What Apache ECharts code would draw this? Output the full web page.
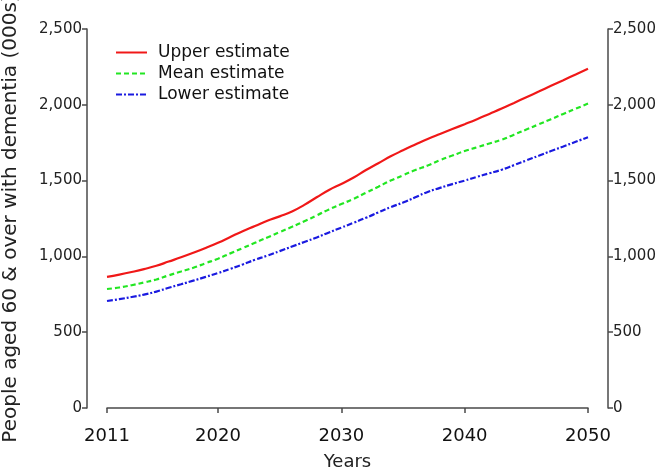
<!DOCTYPE html>
<html>
<head>
<meta charset="utf-8">
<script src="https://cdn.jsdelivr.net/npm/echarts@6/dist/echarts.min.js"></script>
<style>
  html, body { margin: 0; padding: 0; background: #fff; }
  #chart { width: 668px; height: 474px; }
</style>
</head>
<body>
<div id="chart"></div>
<script>
// years on the x axis, one point per year
const years = [];
for (let y = 2011; y <= 2050; y++) years.push(y);

// values (thousands of people)
const upperEstimate = [865, 880, 897, 916, 938, 966, 994, 1024, 1056, 1090,
	1128, 1166, 1200, 1235, 1264, 1296, 1340, 1390, 1438, 1478,
	1520, 1570, 1615, 1660, 1700, 1738, 1775, 1808, 1840, 1872,
	1905, 1940, 1975, 2012, 2050, 2087, 2125, 2162, 2200, 2237];
const meanEstimate = [785, 795, 810, 828, 848, 875, 900, 925, 955, 985,
	1020, 1055, 1090, 1125, 1160, 1195, 1232, 1270, 1310, 1345,
	1380, 1420, 1460, 1500, 1535, 1570, 1600, 1635, 1665, 1695,
	1720, 1745, 1770, 1803, 1837, 1871, 1905, 1940, 1974, 2008];
const lowerEstimate = [706, 718, 732, 748, 768, 793, 816, 840, 865, 890,
	918, 947, 978, 1005, 1035, 1065, 1095, 1125, 1158, 1190,
	1222, 1255, 1290, 1325, 1355, 1390, 1425, 1452, 1477, 1500,
	1525, 1548, 1572, 1602, 1633, 1664, 1695, 1725, 1756, 1786];

const xTicks = [2011, 2020, 2030, 2040, 2050];

const FONT = "DejaVu Sans";
const AXIS_COLOR = "#4a4a4a";

const chart = echarts.init(document.getElementById("chart"), null, { renderer: "canvas" });

// both y axes share the same scale, pushed out from the grid with offset
const yAxisBase = {
	type: "value",
	min: 0,
	max: 2500,
	interval: 500,
	offset: 20,
	axisLine: { show: true, lineStyle: { color: AXIS_COLOR, width: 1.5 } },
	axisTick: { show: true, length: 5, lineStyle: { color: AXIS_COLOR, width: 1.5 } },
	axisLabel: {
		fontFamily: FONT,
		fontSize: 15,
		color: "#222",
		margin: 5,
		formatter: (v) => v.toLocaleString("en-US"),
	},
	splitLine: { show: false },
};

const mkLine = (name, data, color, type) => ({
	name,
	type: "line",
	data: years.map((y, i) => [y, data[i]]),
	showSymbol: false,
	symbol: "none",
	smooth: true,
	lineStyle: { color, width: 2.2, type },
	itemStyle: { color },
});

chart.setOption({
	animation: false,
	textStyle: { fontFamily: FONT },
	// fixed plot box; the long y-axis title is allowed to run off the top like in the original
	grid: { left: 107, right: 80, top: 29, bottom: 66, outerBoundsMode: "none" },
	legend: {
		orient: "vertical",
		left: 110,
		top: 39,
		itemWidth: 31,
		itemHeight: 14,
		itemGap: 4,
		// hide the symbol that line series put in the middle of the legend icon
		itemStyle: { opacity: 0 },
		textStyle: { fontFamily: FONT, fontSize: 17, color: "#111", padding: [0, 0, 0, 6] },
		data: ["Upper estimate", "Mean estimate", "Lower estimate"],
	},
	xAxis: {
		type: "value",
		min: 2011,
		max: 2050,
		name: "Years",
		nameLocation: "middle",
		nameGap: 45,
		nameTextStyle: { fontFamily: FONT, fontSize: 18, color: "#222" },
		axisLine: { show: true, lineStyle: { color: AXIS_COLOR, width: 1.5 } },
		axisTick: { show: true, length: 5, customValues: xTicks, lineStyle: { color: AXIS_COLOR, width: 1.5 } },
		axisLabel: {
			customValues: xTicks,
			fontFamily: FONT,
			fontSize: 18,
			color: "#111",
			margin: 19,
			formatter: (v) => String(v),
		},
		splitLine: { show: false },
	},
	yAxis: [
		{
			...yAxisBase,
			position: "left",
			name: "People aged 60 & over with dementia (000s)",
			nameLocation: "middle",
			nameGap: 66,
			nameTextStyle: { fontFamily: FONT, fontSize: 20, color: "#222" },
		},
		{ ...yAxisBase, position: "right" },
	],
	series: [
		mkLine("Upper estimate", upperEstimate, "#f01818", "solid"),
		mkLine("Mean estimate", meanEstimate, "#22e622", [5, 3]),
		mkLine("Lower estimate", lowerEstimate, "#1a1ae0", [6, 2, 2, 2]),
	],
});
</script>
</body>
</html>
